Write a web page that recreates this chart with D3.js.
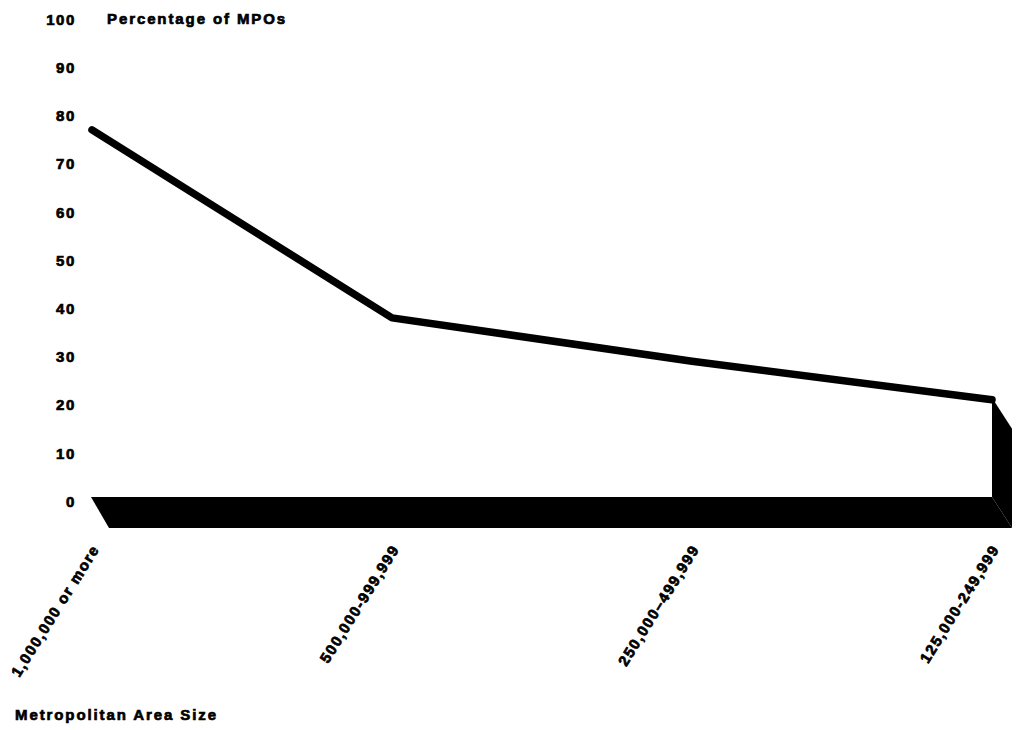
<!DOCTYPE html>
<html>
<head>
<meta charset="utf-8">
<script src="https://cdn.jsdelivr.net/npm/d3@7"></script>
<style>
  body { margin: 0; background: #fff; }
  svg text { font-family: "Liberation Sans", Arial, Helvetica, sans-serif; font-weight: bold; fill: #000; stroke: #000; stroke-width: 0.7px; }
</style>
</head>
<body>
<script>
// chart values
var categories = ["1,000,000 or more", "500,000-999,999", "250,000\u2013499,999", "125,000-249,999"];
var percentages = [77, 38, 29, 21];
var yTicks = [0, 10, 20, 30, 40, 50, 60, 70, 80, 90, 100];

var width = 1019, height = 730;
var depth = {dx: 20, dy: 31};   // fake 3D offset of floor and wall

var svg = d3.select("body").append("svg")
	.attr("width", width)
	.attr("height", height);

var x = d3.scalePoint().domain(categories).range([92, 992]);
var y = d3.scaleLinear().domain([0, 100]).range([501, 19]);

// y axis: labels only
var leftAxis = d3.axisLeft(y).tickValues(yTicks).tickSize(0).tickPadding(0);
var yAxis = svg.append("g")
	.attr("transform", "translate(76,0)")
	.call(leftAxis);
yAxis.select(".domain").remove();
yAxis.selectAll("text")
	.attr("font-size", "15px")
	.attr("font-family", null)
	.style("letter-spacing", "1.6px")
	.attr("dy", "0.35em");

svg.append("text")
	.attr("x", 107)
	.attr("y", y(100))
	.attr("dy", "0.35em")
	.attr("font-size", "15px")
	.style("letter-spacing", "1.9px")
	.text("Percentage of MPOs");

// floor slab
var floorTop = y(0) - 4;
var xFirst = x(categories[0]), xLast = x(categories[categories.length - 1]);
svg.append("path")
	.attr("d", d3.line()([
		[xFirst - 1, floorTop],
		[xLast, floorTop],
		[xLast + depth.dx, floorTop + depth.dy],
		[xFirst + 17, floorTop + depth.dy]
	]) + "Z")
	.attr("fill", "#000");

// right wall under the last point
var lastVal = percentages[percentages.length - 1];
svg.append("path")
	.attr("d", d3.line()([
		[xLast, y(lastVal) - 2],
		[xLast + depth.dx, y(lastVal) - 2 + depth.dy],
		[xLast + depth.dx, floorTop + depth.dy],
		[xLast, floorTop]
	]) + "Z")
	.attr("fill", "#000");

// the line
svg.append("path")
	.datum(percentages)
	.attr("d", d3.line()
		.x(function(d, i) { return x(categories[i]); })
		.y(function(d) { return y(d); }))
	.attr("fill", "none")
	.attr("stroke", "#000")
	.attr("stroke-width", 7.5)
	.attr("stroke-linejoin", "round")
	.attr("stroke-linecap", "round");

// rotated category labels
svg.selectAll(".xlabel")
	.data(categories)
	.enter()
	.append("text")
	.attr("class", "xlabel")
	.attr("font-size", "15px")
	.style("letter-spacing", "1.5px")
	.attr("text-anchor", "end")
	.attr("transform", function(d) { return "translate(" + (x(d) + 8) + ",549) rotate(-58)"; })
	.text(function(d) { return d; });

svg.append("text")
	.attr("x", 15)
	.attr("y", 720)
	.attr("font-size", "15px")
	.style("letter-spacing", "1.9px")
	.text("Metropolitan Area Size");
</script>
</body>
</html>
